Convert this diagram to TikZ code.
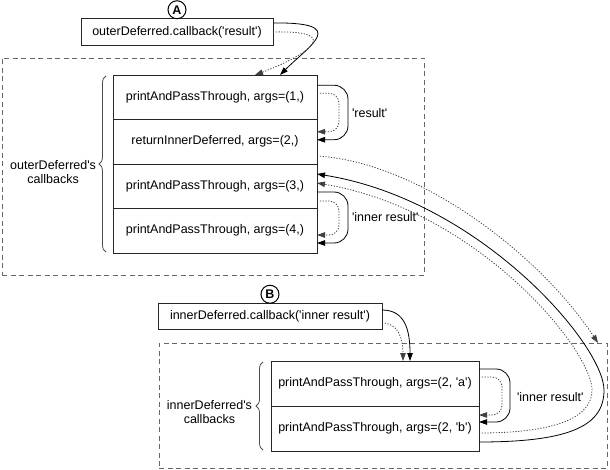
\documentclass[tikz,border=0pt]{standalone}
\usepackage{fontspec}
\setmainfont{Liberation Sans}
\usetikzlibrary{arrows.meta,decorations.pathreplacing}
\newcommand{\sqt}{\textquotesingle}
\begin{document}
\begin{tikzpicture}[x=1pt,y=-1pt,
  font=\fontsize{12.5}{14}\selectfont,
  every node/.style={inner sep=0pt, outer sep=0pt},
  stackrow/.style={draw=black!85, line width=0.8pt, minimum height=44.5pt},
  callbox/.style={draw=black!85, line width=0.8pt, minimum height=26.5pt},
  frame/.style={draw=black!60, line width=0.8pt, dash pattern=on 5pt off 3.5pt},
  marker/.style={circle, draw=black, line width=1pt, minimum size=18pt,
    font=\fontsize{12.5}{14}\selectfont\bfseries},
  flow/.style={line width=0.8pt, -{Triangle[length=8pt,width=5.5pt]}},
  solidflow/.style={flow, draw=black},
  dotflow/.style={flow, draw=black!75, dash pattern=on 1.2pt off 1.6pt},
  cbrace/.style={decorate, decoration={brace, amplitude=7pt}, line width=0.8pt, draw=black!70},
  note/.style={anchor=west}
]
\useasboundingbox (0,0) rectangle (610,470);

% dashed frames around the two deferreds
\node[frame, minimum width=422pt, minimum height=217pt] (outerframe) at (213,166.5) {};
\node[frame, minimum width=448pt, minimum height=125pt] (innerframe) at (383,405.5) {};

% outer deferred callback chain
\node[stackrow, minimum width=204pt] (r1) at (215,97.25) {printAndPassThrough, args=(1,)};
\node[stackrow, minimum width=204pt] (r2) at (215,141.75) {returnInnerDeferred, args=(2,)};
\node[stackrow, minimum width=204pt] (r3) at (215,186.25) {printAndPassThrough, args=(3,)};
\node[stackrow, minimum width=204pt] (r4) at (215,230.75) {printAndPassThrough, args=(4,)};

% inner deferred callback chain
\node[stackrow, minimum width=208pt, minimum height=45pt] (i1) at (375,383.5) {printAndPassThrough, args=(2, \sqt a\sqt)};
\node[stackrow, minimum width=208pt, minimum height=45pt] (i2) at (375,428.5) {printAndPassThrough, args=(2, \sqt b\sqt)};

% trigger calls
\node[callbox, minimum width=192pt] (oc) at (177,32) {outerDeferred.callback(\sqt result\sqt)};
\node[callbox, minimum width=224pt] (ic) at (270,316.5) {innerDeferred.callback(\sqt inner result\sqt)};
\node[marker, anchor=south] (ma) at (oc.north) {A};
\node[marker, anchor=south] (mb) at (ic.north) {B};

% braces and their labels
\draw[cbrace] (106,252) -- (106,76);
\draw[cbrace] (263,450) -- (263,362);
\node[align=center, anchor=east] (olabel) at (96,172) {outerDeferred\sqt s\\callbacks};
\node[align=center, anchor=east] (ilabel) at (252,412) {innerDeferred\sqt s\\callbacks};

% A: firing the outer deferred
\draw[solidflow] ([yshift=9pt]oc.east) .. controls (350,22) and (310,45) .. ([xshift=65pt]r1.north);
\draw[dotflow] (oc.east) .. controls (350,30) and (300,58) .. ([xshift=40pt]r1.north);

% result passed from callback 1 to 2
\draw[solidflow, rounded corners=14pt] ([yshift=12pt]r1.east) -- ++(31,0) |- ([yshift=2pt]r2.east);
\draw[dotflow, rounded corners=10pt] ([yshift=4pt]r1.east) -- ++(22,0) |- ([yshift=10pt]r2.east);
\node[note] (n1) at (352,113) {\sqt result\sqt};

% result passed from callback 3 to 4
\draw[solidflow, rounded corners=14pt] ([yshift=-5.75pt]r3.east) -- ++(31,0) |- ([yshift=-12.25pt]r4.east);
\draw[dotflow, rounded corners=10pt] ([yshift=-14.75pt]r3.east) -- ++(22,0) |- ([yshift=-4.25pt]r4.east);
\node[note] (n2) at (352,217) {\sqt inner result\sqt};

% B: firing the inner deferred
\draw[solidflow] ([yshift=6.5pt]ic.east) .. controls (405,310) and (410,330) .. ([xshift=35pt]i1.north);
\draw[dotflow] ([yshift=-6.5pt]ic.east) .. controls (398,323) and (403,338) .. ([xshift=28pt]i1.north);

% inner callback a to b
\draw[solidflow, rounded corners=14pt] ([yshift=14.5pt]i1.east) -- ++(31,0) |- ([yshift=6.5pt]i2.east);
\draw[dotflow, rounded corners=10pt] ([yshift=6.5pt]i1.east) -- ++(23,0) |- ([yshift=13.5pt]i2.east);
\node[note] (n3) at (517,397) {\sqt inner result\sqt};

% returnInnerDeferred hands over to the inner deferred
\draw[dotflow] ([yshift=-14.25pt]r2.east) .. controls (420,162) and (540,255) .. ([xshift=-9pt]innerframe.north east);

% inner result returns to the outer chain
\draw[solidflow] ([yshift=-13.5pt]i2.east) .. controls (572,442) and (604,425) .. (604,390)
  .. controls (604,345) and (480,200) .. ([yshift=12.25pt]r3.east);
\draw[dotflow] ([yshift=-4.5pt]i2.east) .. controls (555,433) and (592,418) .. (592,390)
  .. controls (592,350) and (478,210) .. ([yshift=3.25pt]r3.east);
\end{tikzpicture}
\end{document}
